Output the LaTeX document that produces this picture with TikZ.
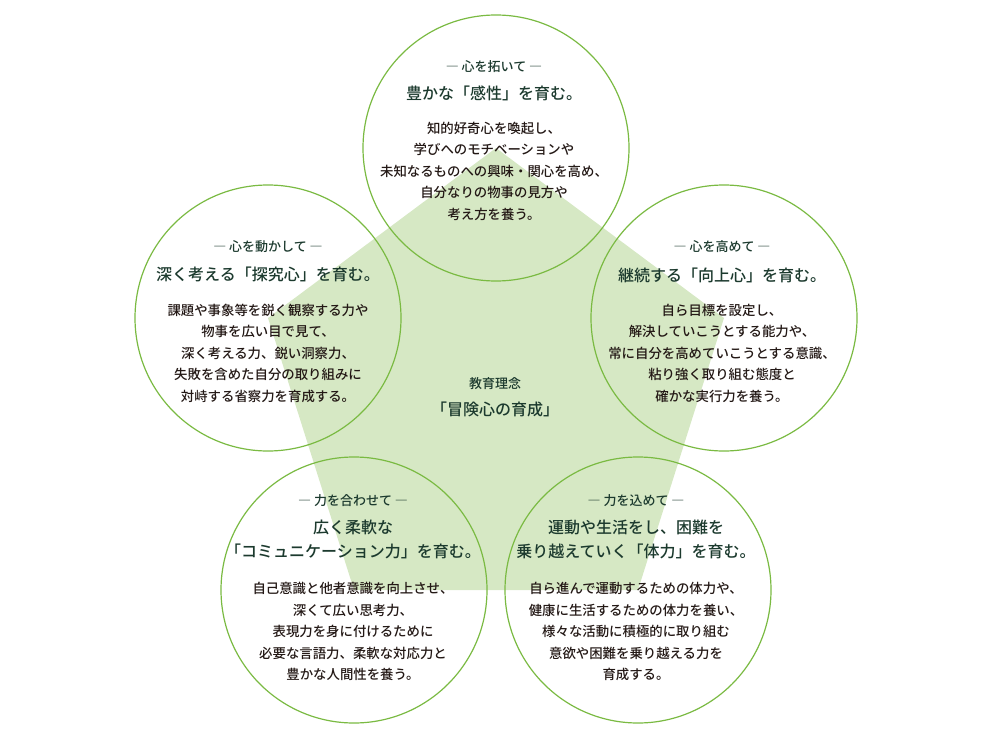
\documentclass[tikz,border=0pt]{standalone}
\usepackage{fontspec}
\usepackage{xcolor}
\usetikzlibrary{positioning,backgrounds}
\newfontfamily\jpfont{Noto Sans CJK JP Medium}
\definecolor{ringgreen}{RGB}{122,186,66}
\definecolor{leafgreen}{RGB}{214,232,196}
\definecolor{headink}{RGB}{28,58,46}
\definecolor{bodyink}{RGB}{35,24,21}

\begin{document}
\begin{tikzpicture}[
    x=1pt, y=-1pt,
    ring/.style={circle, draw=ringgreen, line width=1.2pt, minimum size=266pt, inner sep=0pt},
    motto/.style={font=\jpfont\fontsize{13}{15}\selectfont, text=headink},
    headline/.style={font=\jpfont\fontsize{16}{24}\selectfont, text=headink, align=center},
    detail/.style={font=\jpfont\fontsize{13.4}{21.5}\selectfont, text=bodyink, align=center}
]
\useasboundingbox (0,0) rectangle (990,733);
\node[ring] (sense) at (496,148) {};
\node[ring] (inquiry) at (268,318) {};
\node[ring] (ambition) at (724,318) {};
\node[ring] (comm) at (354,590) {};
\node[ring] (stamina) at (638,590) {};
\begin{scope}[on background layer]
\fill[leafgreen] (sense.center) -- (ambition.center) -- (stamina.center) -- (comm.center) -- (inquiry.center) -- cycle;
\end{scope}
\node[motto] (sense-m) at (494,67) {― 心を拓いて ―};
\node[headline] (sense-h) at (494,93) {豊かな「感性」を育む。};
\node[detail] (sense-d) at (494,171) {
    知的好奇心を喚起し、\\
    学びへのモチベーションや\\
    未知なるものへの興味・関心を高め、\\
    自分なりの物事の見方や\\
    考え方を養う。
};
\node[motto] (inquiry-m) at (268,247) {― 心を動かして ―};
\node[headline] (inquiry-h) at (268,274) {深く考える「探究心」を育む。};
\node[detail] (inquiry-d) at (268,353) {
    課題や事象等を鋭く観察する力や\\
    物事を広い目で見て、\\
    深く考える力、鋭い洞察力、\\
    失敗を含めた自分の取り組みに\\
    対峙する省察力を育成する。
};
\node[motto] (ambition-m) at (722,247) {― 心を高めて ―};
\node[headline] (ambition-h) at (722,275) {継続する「向上心」を育む。};
\node[detail] (ambition-d) at (722,353) {
    自ら目標を設定し、\\
    解決していこうとする能力や、\\
    常に自分を高めていこうとする意識、\\
    粘り強く取り組む態度と\\
    確かな実行力を養う。
};
\node[motto] (comm-m) at (353,501) {― 力を合わせて ―};
\node[headline] (comm-h) at (353,539) {
    広く柔軟な\\
    「コミュニケーション力」を育む。
};
\node[detail] (comm-d) at (353,631.5) {
    自己意識と他者意識を向上させ、\\
    深くて広い思考力、\\
    表現力を身に付けるために\\
    必要な言語力、柔軟な対応力と\\
    豊かな人間性を養う。
};
\node[motto] (stamina-m) at (636,501) {― 力を込めて ―};
\node[headline] (stamina-h) at (636,539) {
    運動や生活をし、困難を\\
    乗り越えていく「体力」を育む。
};
\node[detail] (stamina-d) at (636,631.5) {
    自ら進んで運動するための体力や、\\
    健康に生活するための体力を養い、\\
    様々な活動に積極的に取り組む\\
    意欲や困難を乗り越える力を\\
    育成する。
};
\node[motto] (core-m) at (495,384) {教育理念};
\node[headline] (core-h) at (495,409) {「冒険心の育成」};
\end{tikzpicture}
\end{document}
